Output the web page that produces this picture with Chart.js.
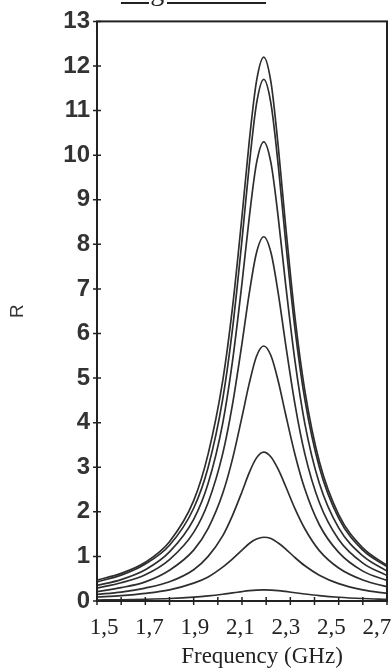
<!DOCTYPE html>
<html>
<head>
<meta charset="utf-8">
<script src="https://cdn.jsdelivr.net/npm/chart.js@4.4.0/dist/chart.umd.min.js"></script>
<style>
    html, body { margin: 0; padding: 0; background: #fff; overflow: hidden; }
    #wrap { position: relative; width: 392px; height: 668px; }
    canvas { position: absolute; left: 0; top: 0; }
    #fig {
        position: absolute; left: 120px; top: -23px; width: 147px;
        text-align: center; white-space: nowrap;
        font-family: "Liberation Serif"; font-size: 28px; line-height: 28px;
        letter-spacing: 3px; text-decoration: underline; color: #222;
    }
</style>
</head>
<body>
<div id="wrap">
    <canvas id="ChartHolder" width="392" height="668"></canvas>
    <div id="fig">Figure 6.4</div>
</div>
<script>
// frequency samples (GHz)
var freqs = [1.5, 1.6, 1.7, 1.8, 1.9, 1.96, 2.02, 2.06, 2.1, 2.13, 2.16, 2.19, 2.22, 2.25, 2.28, 2.32, 2.36, 2.42, 2.5, 2.6, 2.7];

// R curves, highest peak first
var curveA = [0.47, 0.62, 0.87, 1.33, 2.25, 3.30, 4.93, 6.55, 8.63, 10.31, 11.66, 12.2, 11.63, 10.19, 8.45, 6.33, 4.72, 3.13, 1.94, 1.19, 0.80];
var curveB = [0.43, 0.58, 0.83, 1.25, 2.08, 3.00, 4.52, 6.07, 8.10, 9.77, 11.15, 11.7, 11.15, 9.77, 8.10, 6.07, 4.52, 3.00, 1.86, 1.14, 0.77];
var curveC = [0.35, 0.48, 0.70, 1.10, 1.83, 2.64, 3.98, 5.35, 7.13, 8.60, 9.82, 10.3, 9.82, 8.60, 7.13, 5.35, 3.98, 2.64, 1.64, 1.01, 0.67];
var curveD = [0.29, 0.41, 0.59, 0.93, 1.54, 2.21, 3.30, 4.39, 5.78, 6.90, 7.81, 8.17, 7.81, 6.90, 5.78, 4.39, 3.30, 2.21, 1.38, 0.85, 0.57];
var curveE = [0.21, 0.30, 0.43, 0.69, 1.14, 1.63, 2.41, 3.17, 4.13, 4.88, 5.49, 5.72, 5.50, 4.93, 4.20, 3.27, 2.51, 1.71, 1.09, 0.67, 0.46];
var curveF = [0.15, 0.20, 0.29, 0.43, 0.70, 1.00, 1.46, 1.91, 2.45, 2.88, 3.21, 3.34, 3.23, 2.95, 2.58, 2.06, 1.62, 1.13, 0.74, 0.47, 0.32];
var curveG = [0.09, 0.12, 0.17, 0.25, 0.40, 0.54, 0.76, 0.94, 1.14, 1.29, 1.39, 1.43, 1.40, 1.30, 1.17, 0.97, 0.79, 0.58, 0.39, 0.25, 0.17];
var curveH = [0.021, 0.028, 0.039, 0.056, 0.086, 0.114, 0.151, 0.181, 0.211, 0.231, 0.245, 0.25, 0.245, 0.233, 0.214, 0.185, 0.157, 0.12, 0.084, 0.056, 0.039];

var xTickValues = [1.5, 1.7, 1.9, 2.1, 2.3, 2.5, 2.7];
var xTickLabels = ['1,5', '1,7', '1,9', '2,1', '2,3', '2,5', '2,7'];
var xTitle = 'Frequency (GHz)';
var yTitle = 'R';

function toPoints(values) {
    return values.map(function (v, i) { return { x: freqs[i], y: v }; });
}

// box, crossing tick marks and the serif x labels
var frameAndTicks = {
    id: 'frameAndTicks',
    afterDraw: function (chart) {
        var ctx = chart.ctx;
        var area = chart.chartArea;
        var xs = chart.scales.x;
        var ys = chart.scales.y;
        ctx.save();
        ctx.strokeStyle = '#222';
        ctx.lineWidth = 2;
        ctx.strokeRect(area.left, area.top, area.right - area.left, area.bottom - area.top);

        ctx.lineWidth = 1.5;
        ctx.beginPath();
        ys.ticks.forEach(function (t) {
            var py = ys.getPixelForValue(t.value);
            ctx.moveTo(area.left - 4, py);
            ctx.lineTo(area.left + 4, py);
        });
        xs.ticks.forEach(function (t) {
            var px = xs.getPixelForValue(t.value);
            ctx.moveTo(px, area.bottom - 4);
            ctx.lineTo(px, area.bottom + 4);
        });
        ctx.stroke();

        ctx.fillStyle = '#222';
        ctx.font = '23px "Liberation Serif"';
        ctx.textAlign = 'center';
        ctx.textBaseline = 'alphabetic';
        xTickValues.forEach(function (v, i) {
            var px = xs.getPixelForValue(v);
            // the printed labels sit a little closer together than the ticks
            ctx.fillText(xTickLabels[i], area.left + 7 + (px - area.left) * 0.941, area.bottom + 33);
        });
        ctx.fillText(xTitle, (area.left + area.right) / 2 + 20, area.bottom + 62);
        ctx.restore();
    }
};

var curves = [curveA, curveB, curveC, curveD, curveE, curveF, curveG, curveH];

var chartConfig = {
    type: 'line',
    data: {
        datasets: curves.map(function (c) {
            return {
                data: toPoints(c),
                borderColor: '#2e2e2e',
                borderWidth: 1.7,
                pointRadius: 0,
                fill: false,
                cubicInterpolationMode: 'monotone'
            };
        })
    },
    options: {
        responsive: false,
        animation: false,
        devicePixelRatio: 1,
        layout: { padding: { top: 17, right: 5, bottom: 0, left: 0 } },
        plugins: {
            legend: { display: false },
            tooltip: { enabled: false }
        },
        scales: {
            x: {
                type: 'linear',
                min: 1.5,
                max: 2.7,
                ticks: { display: false, stepSize: 0.1 },
                grid: { display: false, drawTicks: false },
                border: { display: false },
                afterFit: function (s) { s.height = 67; }
            },
            y: {
                min: 0,
                max: 13,
                ticks: {
                    stepSize: 1,
                    padding: 7,
                    color: '#333',
                    font: { family: 'Liberation Sans', size: 24, weight: 'bold' }
                },
                grid: { display: false, drawTicks: false },
                border: { display: false },
                title: {
                    display: true,
                    text: yTitle,
                    color: '#333',
                    font: { family: 'Liberation Sans', size: 19 },
                    padding: { top: 6, bottom: 0 }
                },
                afterFit: function (s) { s.width = 97; }
            }
        }
    },
    plugins: [frameAndTicks]
};

var currentChart = new Chart(document.getElementById('ChartHolder'), chartConfig);
</script>
</body>
</html>
